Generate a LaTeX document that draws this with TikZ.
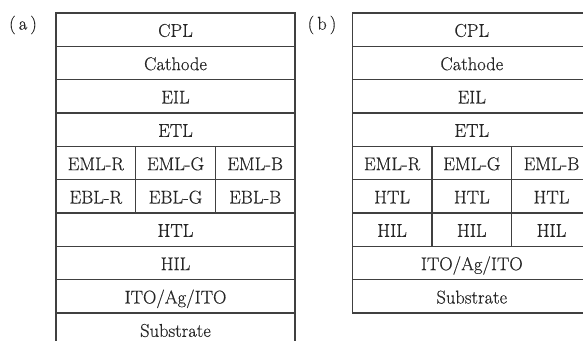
\documentclass[tikz,border=0pt]{standalone}
\usepackage{fontspec}
\setmainfont{Latin Modern Roman}[FakeBold=0.4]
\begin{document}
\begin{tikzpicture}[x=1pt,y=-1pt,
  cell/.style={draw=black!75, line width=1.1pt, inner sep=0pt,
    minimum height=33.33pt, text height=15pt, text depth=0.7pt,
    font=\fontsize{18.5}{20}\selectfont, text=black!85},
  wide/.style={cell, minimum width=239pt},
  third/.style={cell, minimum width=79.67pt},
  tag/.style={font=\fontsize{18.5}{20}\selectfont, text=black!85}]
\useasboundingbox (0,0) rectangle (583,340);
\clip (0,0) rectangle (583,340);

% ---- stack (a) ----
\node[tag] (taga) at (23,25) {(\,a\,)};
\node[wide]  (a1) at (175.5,29.67)  {CPL};
\node[wide]  (a2) at (175.5,63)     {Cathode};
\node[wide]  (a3) at (175.5,96.33)  {EIL};
\node[wide]  (a4) at (175.5,129.67) {ETL};
\node[third] (a5r) at (95.83,163)   {EML-R};
\node[third] (a5g) at (175.5,163)   {EML-G};
\node[third] (a5b) at (255.17,163)  {EML-B};
\node[third] (a6r) at (95.83,196.33)  {EBL-R};
\node[third] (a6g) at (175.5,196.33)  {EBL-G};
\node[third] (a6b) at (255.17,196.33) {EBL-B};
\node[wide]  (a7) at (175.5,229.67) {HTL};
\node[wide]  (a8) at (175.5,263)    {HIL};
\node[wide]  (a9) at (175.5,296.33) {ITO/Ag/ITO};
\node[wide]  (a10) at (175.5,329.67) {Substrate};

% ---- stack (b) ----
\node[tag] (tagb) at (322,25) {(\,b\,)};
\node[wide]  (b1) at (471.8,29.67)  {CPL};
\node[wide]  (b2) at (471.8,63)     {Cathode};
\node[wide]  (b3) at (471.8,96.33)  {EIL};
\node[wide]  (b4) at (471.8,129.67) {ETL};
\node[third] (b5r) at (392.1,163)   {EML-R};
\node[third] (b5g) at (471.8,163)   {EML-G};
\node[third] (b5b) at (551.5,163)   {EML-B};
\node[third] (b6r) at (392.1,196.33)  {HTL};
\node[third] (b6g) at (471.8,196.33)  {HTL};
\node[third] (b6b) at (551.5,196.33)  {HTL};
\node[third] (b7r) at (392.1,229.67)  {HIL};
\node[third] (b7g) at (471.8,229.67)  {HIL};
\node[third] (b7b) at (551.5,229.67)  {HIL};
\node[wide]  (b8) at (471.8,263)    {ITO/Ag/ITO};
\node[wide]  (b9) at (471.8,296.33) {Substrate};
\end{tikzpicture}
\end{document}
